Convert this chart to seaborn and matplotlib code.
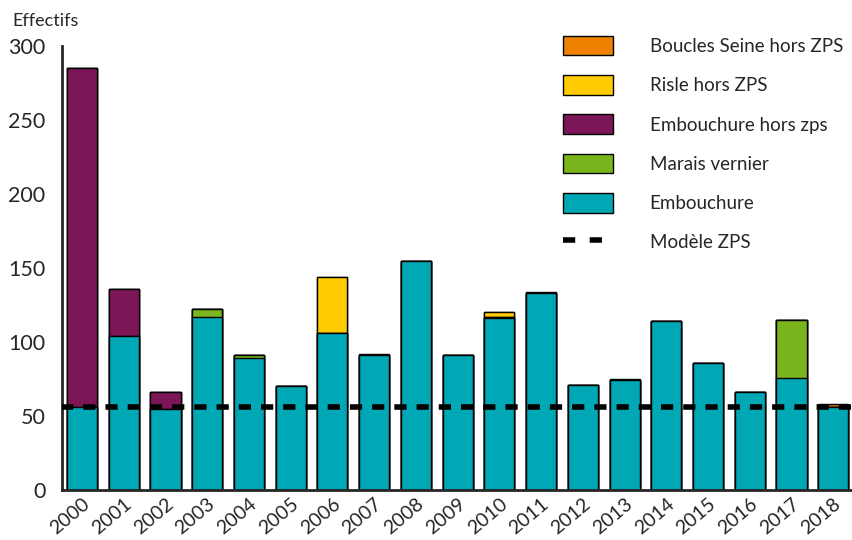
import numpy as np
import pandas as pd
import matplotlib
matplotlib.use("Agg")
import matplotlib.pyplot as plt
import seaborn as sns
from matplotlib.patches import Patch
from matplotlib.lines import Line2D

years = [str(y) for y in range(2000, 2019)]
embouchure = [56, 104, 55, 117, 89, 70, 106, 91, 155, 91, 116, 133, 71, 74, 114, 86, 66, 76, 56]
marais_vernier = [0, 0, 0, 5, 2, 0, 0, 0, 0, 0, 1, 0, 0, 0, 0, 0, 0, 39, 0]
embouchure_hors_zps = [229, 32, 11, 0, 0, 0, 0, 0, 0, 0, 0, 0, 0, 0, 0, 0, 0, 0, 0]
risle_hors_zps = [0, 0, 0, 0, 0, 0, 38, 0, 0, 0, 3, 0, 0, 0, 0, 0, 0, 0, 0]
boucles_seine = [0, 0, 0, 0, 0, 0, 0, 1, 0, 0, 0, 1, 0, 1, 0, 0, 0, 0, 2]
modele_zps = 56

series = [
    ("Embouchure", embouchure, "#00A8B5"),
    ("Marais vernier", marais_vernier, "#7AB51D"),
    ("Embouchure hors zps", embouchure_hors_zps, "#7D1656"),
    ("Risle hors ZPS", risle_hors_zps, "#FFCC00"),
    ("Boucles Seine hors ZPS", boucles_seine, "#EE8100"),
]

sns.set_style("white")
plt.rcParams['font.family'] = ['Lato', 'DejaVu Sans']

fig = plt.figure(figsize=(8.52, 5.4), dpi=100)
ax = fig.add_axes([62 / 852, 50 / 540, 790 / 852, 444 / 540])

# stacked bars: draw cumulative totals from the top layer down
cum = np.zeros(len(years))
cums = []
for name, vals, col in series:
    cum = cum + np.array(vals)
    cums.append((name, cum.copy(), col))
for name, tot, col in reversed(cums):
    df = pd.DataFrame({"year": years, "val": tot})
    sns.barplot(data=df, x="year", y="val", color=col, width=0.72,
                edgecolor="black", linewidth=1.0, saturation=1, ax=ax)

ax.plot([-0.5, len(years) - 0.5], [modele_zps, modele_zps], color="black",
        lw=4, dashes=(2.2, 1.8), zorder=5)

ax.set_xlim(-0.48, 18.45)
ax.set_ylim(0, 300)
ax.set_xlabel("")
ax.set_ylabel("")
ax.set_yticks([0, 50, 100, 150, 200, 250, 300])
ax.tick_params(axis="y", direction="in", length=5, width=2, labelsize=15.5, pad=12)
ax.yaxis.get_major_ticks()[-1].tick1line.set_markersize(18)
ax.set_xticks(range(len(years)))
ax.set_xticklabels(years, rotation=40, ha="right", rotation_mode="anchor")
ax.tick_params(axis="x", length=0, labelsize=14, pad=4)
ax.set_xticks(np.arange(0.5, len(years) - 0.5, 1), minor=True)
ax.tick_params(axis="x", which="minor", direction="in", length=10, width=2)

for s in ["top", "right"]:
    ax.spines[s].set_visible(False)
ax.spines["left"].set_linewidth(2)
ax.spines["bottom"].set_linewidth(2)

fig.text(12 / 852, 1 - 21 / 540, "Effectifs", fontsize=13, va="center")

handles = [Patch(facecolor=c, edgecolor="black", linewidth=1, label=n)
           for n, v, c in reversed(series)]
handles.append(Line2D([0], [0], color="black", lw=4, dashes=(2.2, 2.6), label="Modèle ZPS"))
leg = fig.legend(handles=handles, loc="upper left", bbox_to_anchor=(546 / 852, 1 - 19 / 540),
                 frameon=False, fontsize=13.5, handlelength=2.67, handleheight=1.23,
                 handletextpad=1.95, labelspacing=1.05)

fig.savefig("out.png", dpi=100)
